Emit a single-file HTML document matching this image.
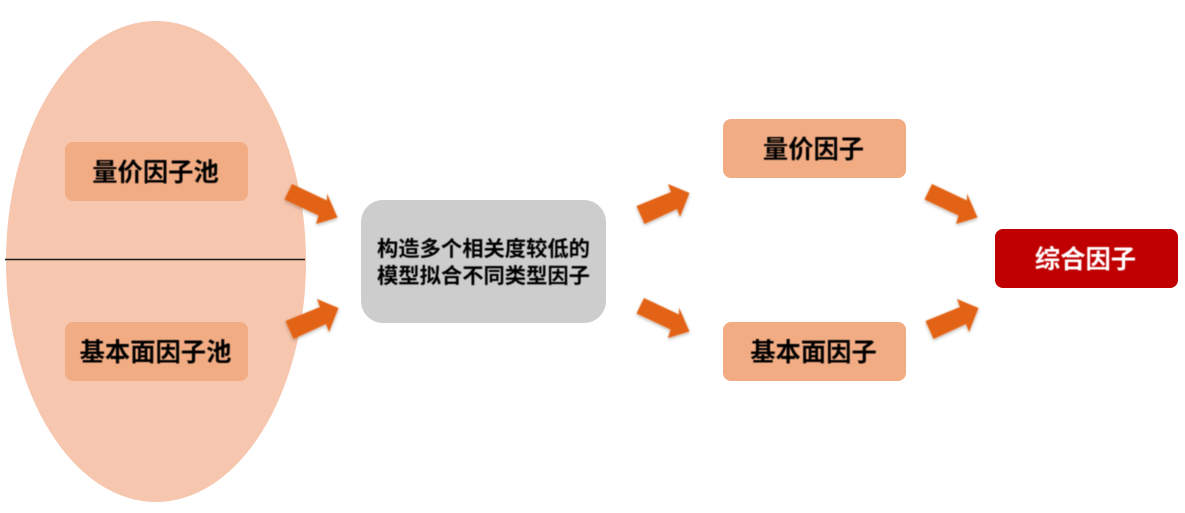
<!DOCTYPE html>
<html>
<head>
<meta charset="utf-8">
<style>
html,body{margin:0;padding:0;background:#fff;}
#c{position:relative;width:1185px;height:513px;overflow:hidden;background:#fff;font-family:"Liberation Sans","Noto Sans CJK SC",sans-serif;color:#000;}
.b{position:absolute;display:flex;align-items:center;justify-content:center;font-weight:700;white-space:nowrap;box-sizing:border-box;}
.o{background:#f2ac84;border-radius:8px;width:183px;height:59px;}
.t{display:block;filter:blur(.45px);}
.s{font-size:25.300px;position:relative;top:-1px;left:-1px;}
svg{position:absolute;left:0;top:0;}
</style>
</head>
<body>
<div id="c">
<svg width="1185" height="513" viewBox="0 0 1185 513">
<defs>
<filter id="s" x="-20%" y="-20%" width="150%" height="150%"><feGaussianBlur in="SourceGraphic" stdDeviation=".5" result="g"/><feDropShadow in="g" dx="0" dy="1.5" stdDeviation="1.5" flood-color="#000" flood-opacity=".3"/></filter>
<polygon id="d" points="292,184 327,200.500 327,193.500 337.500,217.500 316,224 318.500,215.500 284.500,199.500" fill="#e36414" filter="url(#s)"/>
<polygon id="u" points="285.500,321 320,307 317,299 338.500,308 329,332 326,324 293.500,339" fill="#e36414" filter="url(#s)"/>
</defs>
<ellipse cx="156" cy="261.500" rx="150" ry="240.500" fill="#f6c6ae"/>
<line x1="5" y1="259.500" x2="305" y2="259.500" stroke="#1a1a1a" stroke-width="1.500"/>
<use href="#d"/>
<use href="#u"/>
<use href="#u" transform="translate(351,-115)"/>
<use href="#d" transform="translate(352,114)"/>
<use href="#d" transform="translate(640,0)"/>
<use href="#u" transform="translate(640,0)"/>
</svg>
<div class="b o" style="left:65px;top:142px;"><span class="t s">量价因子池</span></div>
<div class="b o" style="left:65px;top:322px;"><span class="t s">基本面因子池</span></div>
<div class="b" style="left:361px;top:200px;width:245px;height:123px;background:#cdcdcd;border-radius:22px;"><span class="t" style="font-size:21.300px;line-height:27px;text-align:center;position:relative;top:1px;">构造多个相关度较低的<br>模型拟合不同类型因子</span></div>
<div class="b o" style="left:723px;top:119px;"><span class="t s">量价因子</span></div>
<div class="b o" style="left:723px;top:322px;"><span class="t s">基本面因子</span></div>
<div class="b" style="left:995px;top:229px;width:183px;height:59px;background:#c00000;border-radius:8px;color:#fff;"><span class="t s">综合因子</span></div>
</div>
</body>
</html>
